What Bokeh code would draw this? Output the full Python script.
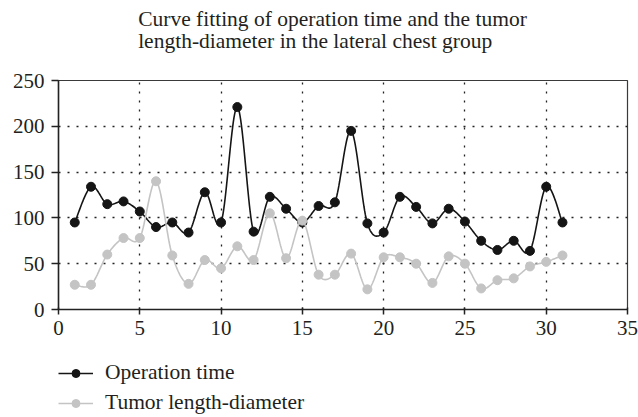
import numpy as np
from bokeh.plotting import figure
from bokeh.layouts import column
from bokeh.models import Range1d, FixedTicker, Legend, LegendItem
from bokeh.embed import file_html
from bokeh.resources import INLINE

sample = list(range(1, 32))
operation_time = [95, 134, 115, 118, 107, 90, 95, 84, 128, 95,
                  221, 85, 123, 110, 95, 113, 117, 195, 94, 84,
                  123, 112, 94, 110, 96, 75, 65, 75, 64, 134, 95]
tumor_diameter = [27, 27, 60, 78, 78, 140, 59, 28, 54, 45,
                  69, 54, 105, 56, 97, 38, 38, 61, 22, 57,
                  57, 50, 29, 58, 50, 23, 32, 34, 47, 52, 59]
x_ticks = [0, 5, 10, 15, 20, 25, 30, 35]
y_ticks = [0, 50, 100, 150, 200, 250]
title_lines = ["Curve fitting of operation time and the tumor",
               "length-diameter in the lateral chest group"]
series_names = ["Operation time", "Tumor length-diameter"]

FONT = "Liberation Serif"
BLACK = "#151515"
GREY = "#c4c4c4"
TEXT = "#231f20"
W = 638


def smooth(xs, ys, n=24):
    xs = np.asarray(xs, float)
    ys = np.asarray(ys, float)
    px = np.concatenate([[xs[0]], xs, [xs[-1]]])
    py = np.concatenate([[ys[0]], ys, [ys[-1]]])
    ox, oy = [], []
    t = np.linspace(0, 1, n, endpoint=False)
    for i in range(1, len(px) - 2):
        p0x, p1x, p2x, p3x = px[i - 1], px[i], px[i + 1], px[i + 2]
        p0y, p1y, p2y, p3y = py[i - 1], py[i], py[i + 1], py[i + 2]
        cx = 0.5 * (2 * p1x + (-p0x + p2x) * t + (2 * p0x - 5 * p1x + 4 * p2x - p3x) * t ** 2
                    + (-p0x + 3 * p1x - 3 * p2x + p3x) * t ** 3)
        cy = 0.5 * (2 * p1y + (-p0y + p2y) * t + (2 * p0y - 5 * p1y + 4 * p2y - p3y) * t ** 2
                    + (-p0y + 3 * p1y - 3 * p2y + p3y) * t ** 3)
        ox.extend(cx)
        oy.extend(cy)
    ox.append(xs[-1])
    oy.append(ys[-1])
    return ox, oy


ox, oy = smooth(sample, operation_time)
tx, ty = smooth(sample, tumor_diameter)

# ---- header figure holding the two-line title
head = figure(width=W, height=58, output_backend="svg", toolbar_location=None,
              x_axis_type=None, y_axis_type=None, title="\n".join(title_lines),
              min_border_left=27, min_border_right=1, min_border_top=2, min_border_bottom=0)
head.frame_align = False
head.outline_line_color = None
head.grid.visible = False
head.title.align = "center"
head.title.text_font = FONT
head.title.text_font_size = "21.5px"
head.title.text_font_style = "normal"
head.title.text_color = TEXT
head.title.text_line_height = 0.95
head.title.standoff = 10

# ---- main chart
fig = figure(width=W, height=289, output_backend="svg", toolbar_location=None,
             x_range=Range1d(0, 35), y_range=Range1d(0, 250),
             min_border_left=58, min_border_right=11, min_border_top=22, min_border_bottom=38)
fig.outline_line_color = "#3a3a3a"
fig.outline_line_width = 1.2

for ax in (fig.xaxis[0], fig.yaxis[0]):
    ax.axis_line_color = "#222222"
    ax.axis_line_width = 1.5
    ax.major_tick_line_color = "#222222"
    ax.major_tick_line_width = 1.5
    ax.minor_tick_line_color = None
    ax.major_label_text_font = FONT
    ax.major_label_text_font_size = "21px"
    ax.major_label_text_color = TEXT
fig.xaxis.ticker = FixedTicker(ticks=x_ticks)
fig.yaxis.ticker = FixedTicker(ticks=y_ticks)
fig.xaxis.major_tick_in = 2
fig.xaxis.major_tick_out = 5
fig.yaxis.major_tick_in = 0
fig.yaxis.major_tick_out = 7
fig.xaxis.major_label_standoff = 6
fig.yaxis.major_label_standoff = 7

fig.xgrid.ticker = FixedTicker(ticks=x_ticks[1:-1])
fig.ygrid.ticker = FixedTicker(ticks=y_ticks[1:-1])
for g in (fig.xgrid[0], fig.ygrid[0]):
    g.grid_line_color = "#222222"
    g.grid_line_width = 1.3
    g.grid_line_dash = "2 7"

fig.line(ox, oy, line_color=BLACK, line_width=1.6)
fig.scatter(sample, operation_time, size=9, fill_color=BLACK, line_color=BLACK)
fig.line(tx, ty, line_color=GREY, line_width=1.6)
fig.scatter(sample, tumor_diameter, size=9, fill_color=GREY, line_color=GREY)

# ---- footer figure holding the legend
foot = figure(width=W, height=70, output_backend="svg", toolbar_location=None,
              x_axis_type=None, y_axis_type=None,
              x_range=Range1d(0, 35), y_range=Range1d(0, 250),
              min_border_left=58, min_border_right=0, min_border_top=13, min_border_bottom=0)
foot.outline_line_color = None
foot.grid.visible = False
l1 = foot.line(ox, oy, line_color=BLACK, line_width=1.6, visible=False)
c1 = foot.scatter(sample, operation_time, size=9, fill_color=BLACK, line_color=BLACK, visible=False)
l2 = foot.line(tx, ty, line_color=GREY, line_width=1.6, visible=False)
c2 = foot.scatter(sample, tumor_diameter, size=9, fill_color=GREY, line_color=GREY, visible=False)

legend = Legend(items=[LegendItem(label=series_names[0], renderers=[l1, c1]),
                       LegendItem(label=series_names[1], renderers=[l2, c2])],
                location="top_left", orientation="vertical", click_policy="none",
                border_line_color=None, background_fill_alpha=0,
                glyph_width=35, glyph_height=20, label_height=20, spacing=5,
                padding=0, margin=0, label_standoff=12,
                label_text_font=FONT, label_text_font_size="21.5px",
                label_text_color=TEXT)
foot.add_layout(legend)

p = column(head, fig, foot, spacing=0)
open("out.html", "w").write(file_html(p, INLINE))
